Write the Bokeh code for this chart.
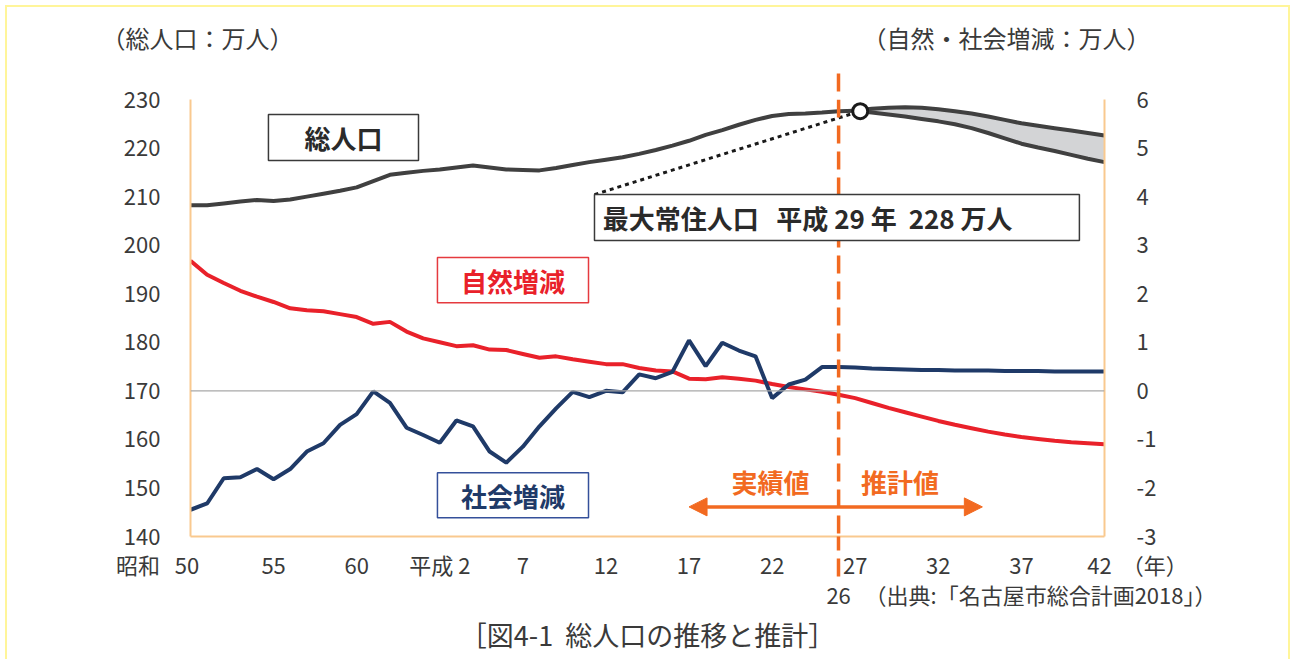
from bokeh.plotting import figure
from bokeh.models import (Range1d, LinearAxis, FixedTicker, Span, Label, BoxAnnotation,
                          Arrow, NormalHead, Title)
from bokeh.embed import file_html
from bokeh.resources import INLINE

# ---------------- data ----------------
years_actual = list(range(1975, 2016))
total_actual = [208.2, 208.2, 208.6, 209.0, 209.3, 209.1, 209.4, 210.0, 210.6, 211.2,
                211.9, 213.2, 214.5, 214.9, 215.3, 215.6, 216.0, 216.4, 216.0, 215.6,
                215.5, 215.4, 215.9, 216.5, 217.1, 217.6, 218.1, 218.8, 219.6, 220.5,
                221.5, 222.7, 223.7, 224.8, 225.8, 226.6, 227.0, 227.1, 227.3, 227.6,
                227.7]

years_proj = list(range(2015, 2031))
total_upper = [227.7, 228.1, 228.3, 228.4, 228.3, 228.0, 227.6, 227.1, 226.5, 225.8,
               225.1, 224.6, 224.1, 223.6, 223.1, 222.6]
total_lower = [227.7, 227.3, 226.9, 226.5, 226.0, 225.5, 224.9, 224.1, 223.1, 222.0,
               220.9, 220.1, 219.4, 218.6, 217.8, 217.1]

years_all = list(range(1975, 2031))
natural = [2.68, 2.39, 2.22, 2.06, 1.94, 1.83, 1.70, 1.66, 1.64, 1.58,
           1.52, 1.38, 1.42, 1.22, 1.08, 1.00, 0.92, 0.94, 0.85, 0.84,
           0.76, 0.68, 0.71, 0.65, 0.60, 0.55, 0.55, 0.47, 0.42, 0.40,
           0.25, 0.24, 0.28, 0.25, 0.21, 0.14, 0.08, 0.03, -0.02, -0.08,
           -0.15, -0.25, -0.35, -0.44, -0.53, -0.62, -0.70, -0.77, -0.84, -0.90,
           -0.95, -0.99, -1.03, -1.06, -1.08, -1.10]
social = [-2.45, -2.32, -1.80, -1.78, -1.61, -1.82, -1.61, -1.25, -1.08, -0.70,
          -0.48, -0.01, -0.25, -0.76, -0.91, -1.07, -0.61, -0.73, -1.25, -1.48,
          -1.15, -0.73, -0.36, -0.02, -0.13, 0.00, -0.03, 0.34, 0.26, 0.39,
          1.04, 0.51, 0.99, 0.83, 0.71, -0.15, 0.13, 0.23, 0.49, 0.49,
          0.48, 0.46, 0.45, 0.44, 0.43, 0.43, 0.42, 0.42, 0.42, 0.41,
          0.41, 0.41, 0.40, 0.40, 0.40, 0.40]

left_ticks = [140, 150, 160, 170, 180, 190, 200, 210, 220, 230]
right_ticks = [-3, -2, -1, 0, 1, 2, 3, 4, 5, 6]
right_tick_labels = ["-3", "-2", "-1", "0", "1", "2", "3", "4", "5", "6"]
x_ticks = [1975, 1980, 1985, 1990, 1995, 2000, 2005, 2010, 2015, 2020, 2025, 2030]
x_tick_labels = ["昭和\u00a0\u00a0\u00a050\u3000\u3000\u3000", "55", "60", "平成 2", "7", "12",
                 "17", "22", "27", "32", "37", "\u3000\u3000\u300042\u00a0\u00a0（年）"]

boundary_year = 2014          # 平成26年: 実績値 / 推計値 の境
peak_year = [2015.3]
peak_value = [227.6]

title_left = "（総人口：万人）"
title_right = "（自然・社会増減：万人）"
source_text = "（出典:「名古屋市総合計画2018」）"
caption = "［図4-1\u00a0\u00a0総人口の推移と推計］"

# ---------------- style ----------------
JP = "Noto Sans CJK JP"
TXT = "#3a3a3a"
ORANGE = "#f26a21"
FRAME = "#f9c98f"
BLACK_LINE = "#404040"
RED = "#e9212a"
NAVY = "#1f3a68"
BAND = "#d3d4d6"
YEL = "#fff59a"

p = figure(frame_width=914, frame_height=437,
           x_range=Range1d(1975, 2030), y_range=Range1d(140, 230),
           output_backend="svg", toolbar_location=None,
           min_border_left=190, min_border_right=188,
           min_border_top=99, min_border_bottom=123)
p.extra_y_ranges = {"r": Range1d(-3, 6)}
p.grid.visible = False
p.outline_line_color = None
p.background_fill_color = "white"
p.border_fill_color = None
g = "linear-gradient(%s,%s)" % (YEL, YEL)
p.styles = {"background": (g + " 5px 5px / 1285px 2px no-repeat, " +
                           g + " 5px 5px / 2px 700px no-repeat, " +
                           g + " 1288px 5px / 2px 700px no-repeat, white")}

def style_axis(ax, standoff, size="22px", line=True):
    ax.axis_line_color = FRAME if line else None
    ax.axis_line_width = 2
    ax.major_tick_line_color = None
    ax.minor_tick_line_color = None
    ax.major_tick_out = 0
    ax.major_tick_in = 0
    ax.minor_tick_out = 0
    ax.minor_tick_in = 0
    ax.major_label_text_font = JP
    ax.major_label_text_font_size = size
    ax.major_label_text_color = TXT
    ax.major_label_standoff = standoff

def boundary_tick(ax, length):
    ax.minor_tick_line_color = ORANGE
    ax.minor_tick_line_width = 3.5
    ax.minor_tick_line_dash = "18 8"
    ax.minor_tick_out = length

# bottom axis (years); the boundary minor tick continues the dashed line below the frame
xa = p.xaxis[0]
xa.ticker = FixedTicker(ticks=x_ticks, minor_ticks=[boundary_year])
xa.major_label_overrides = {t: s for t, s in zip(x_ticks, x_tick_labels)}
style_axis(xa, -29)
boundary_tick(xa, 40)

# second row under the year axis: "26" and the source note
src_pos = 2026.15
xa2 = LinearAxis(ticker=FixedTicker(ticks=[boundary_year, src_pos]))
xa2.major_label_overrides = {boundary_year: "26", src_pos: source_text}
style_axis(xa2, -5, "22px", line=False)
p.add_layout(xa2, "below")

p.add_layout(Title(text=caption, align="center", text_font=JP, text_font_size="27px",
                   text_font_style="normal", text_color=TXT, standoff=0), "below")

# top: axis unit titles
ttl_pos = [1975.42, 2024.10]
xt = LinearAxis(ticker=FixedTicker(ticks=ttl_pos, minor_ticks=[boundary_year]))
xt.major_label_overrides = {ttl_pos[0]: title_left, ttl_pos[1]: title_right}
style_axis(xt, 19, "24px", line=False)
boundary_tick(xt, 26)
p.add_layout(xt, "above")

ya = p.yaxis[0]
ya.ticker = FixedTicker(ticks=left_ticks)
style_axis(ya, 30)

ra = LinearAxis(y_range_name="r", ticker=FixedTicker(ticks=right_ticks))
ra.major_label_overrides = {t: s for t, s in zip(right_ticks, right_tick_labels)}
style_axis(ra, 32)
ra.major_label_text_align = "right"
p.add_layout(ra, "right")

# zero line
p.add_layout(Span(location=170, dimension="width", line_color="#a8a8a8", line_width=1.2))

# ---------------- data marks ----------------
p.varea(x=years_proj, y1=total_lower, y2=total_upper, fill_color=BAND)
p.line(years_proj, total_upper, line_color=BLACK_LINE, line_width=4)
p.line(years_proj, total_lower, line_color=BLACK_LINE, line_width=4)
p.line(years_actual, total_actual, line_color=BLACK_LINE, line_width=4)
p.line(years_all, natural, y_range_name="r", line_color=RED, line_width=4)
p.line(years_all, social, y_range_name="r", line_color=NAVY, line_width=4)

# ---------------- annotations ----------------
p.add_layout(Arrow(end=None, x_start=1999.31, y_start=210.42,
                   x_end=peak_year[0], y_end=peak_value[0],
                   line_color="#1a1a1a", line_width=3, line_dash="4 4"))
p.add_layout(Span(location=boundary_year, dimension="height", line_color=ORANGE,
                  line_width=3.5, line_dash="18 8"))

def box(l, r, t, b, color):
    p.add_layout(BoxAnnotation(left=l, right=r, top=t, bottom=b,
                               fill_color="white", fill_alpha=1,
                               line_color=color, line_alpha=1, line_width=1.5))

def label(x, y, text, size, color=TXT, bold=False, align="center"):
    p.add_layout(Label(x=x, y=y, text=text, text_font=JP, text_font_size=size,
                       text_color=color, text_font_style="bold" if bold else "normal",
                       text_align=align, text_baseline="middle"))

box(1979.69, 1988.72, 226.91, 217.43, "#3a3a3a")
label(1984.2, 222.1, "総人口", "26px", "#2a2a2a", True)
box(1989.86, 1998.95, 197.44, 188.16, "#e53a3f")
label(1994.4, 192.7, "自然増減", "26px", RED, True)
box(1989.86, 1998.95, 153.12, 143.85, "#34509a")
label(1994.4, 148.4, "社会増減", "26px", NAVY, True)
box(1999.31, 2028.49, 210.42, 200.94, "#3a3a3a")
label(1999.8, 205.6, "最大常住人口\u00a0\u00a0\u00a0平成 29 年\u00a0\u00a0228 万人", "26px",
      "#2a2a2a", True, "left")

p.add_layout(Arrow(start=NormalHead(size=18, fill_color=ORANGE, line_color=ORANGE),
                   end=NormalHead(size=18, fill_color=ORANGE, line_color=ORANGE),
                   x_start=2005.0, y_start=146.1, x_end=2022.65, y_end=146.1,
                   line_color=ORANGE, line_width=3.5))
label(2009.9, 151.3, "実績値", "26px", ORANGE, True)
label(2017.7, 151.3, "推計値", "26px", ORANGE, True)

pk = p.scatter(peak_year, peak_value, size=15, marker="circle",
               fill_color="white", line_color="#1a1a1a", line_width=3)
pk.level = "overlay"

open("out.html", "w").write(file_html(p, INLINE))
